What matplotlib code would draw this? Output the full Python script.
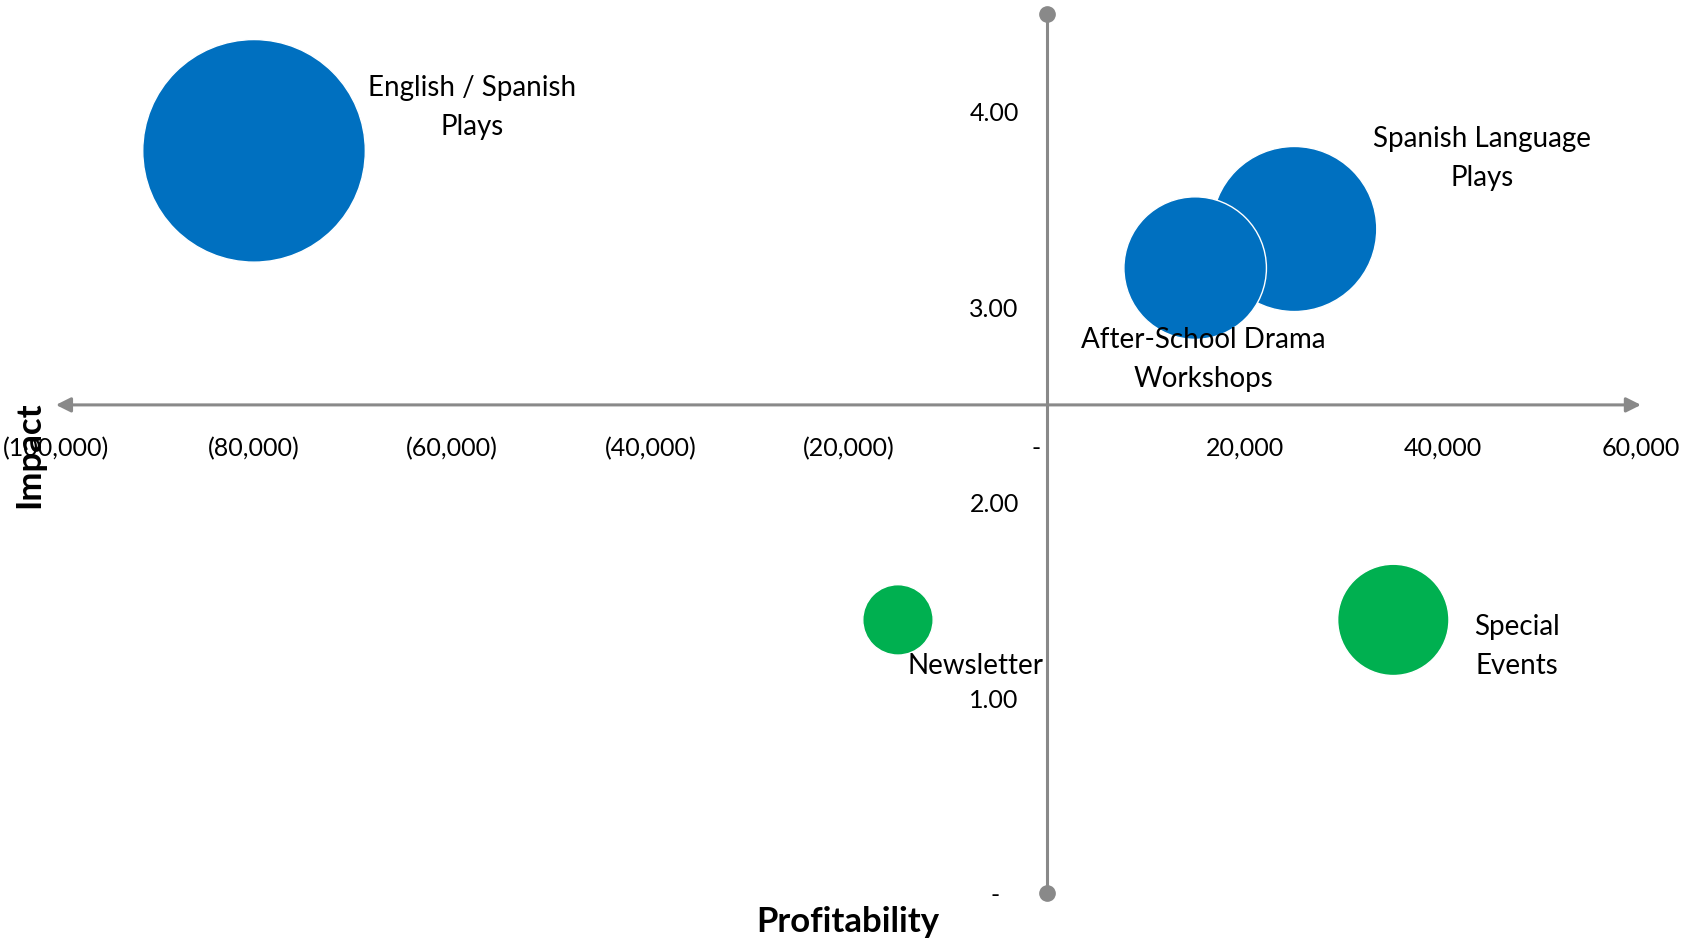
import matplotlib
matplotlib.use("Agg")
from matplotlib import pyplot as plt
from matplotlib.ticker import FuncFormatter

plt.rcParams['font.family'] = ['Lato', 'DejaVu Sans']

# bubble data
programs = ["English / Spanish\nPlays", "Spanish Language\nPlays",
            "After-School Drama\nWorkshops", "Newsletter", "Special\nEvents"]
profit = [-80000, 25000, 15000, -15000, 35000]
impact = [3.8, 3.4, 3.2, 1.4, 1.4]
bubble = [100, 55, 41, 10, 25]
colors = ["#0070C0", "#0070C0", "#0070C0", "#00B050", "#00B050"]

x_ticks = [-100000, -80000, -60000, -40000, -20000, 0, 20000, 40000, 60000]
y_ticks = [0, 1, 2, 3, 4]

# label offsets (points) from bubble centres
offsets = [(157, 31), (135, 51), (6, -66), (56, -33), (89, -19)]

AXIS = "#898989"


def fmt_x(v, pos):
    if v == 0:
        return "-   "
    if v < 0:
        return "({:,.0f})".format(-v)
    return "{:,.0f}".format(v)


def fmt_y(v, pos):
    if v == 0:
        return "-   "
    return "{:.2f}".format(v)


fig = plt.figure(figsize=(16.94, 9.42), dpi=100)
ax = fig.add_axes([0.033, 0.0515, 0.9357, 0.9336])
ax.set_xlim(-100000, 60000)
ax.set_ylim(0, 4.5)

s_max = 25680
ax.scatter(profit, impact, s=[b / max(bubble) * s_max for b in bubble],
           c=colors, edgecolors="white", linewidths=1.0, zorder=3)

for name, x, y, off in zip(programs, profit, impact, offsets):
    ax.annotate(name, (x, y), xytext=off, textcoords="offset points",
                ha="center", va="center", fontsize=20, linespacing=1.62,
                zorder=4)

# axes drawn as arrows / dotted line through the origin
ax.annotate("", xy=(-100000, 2.5), xytext=(60000, 2.5),
            arrowprops=dict(arrowstyle="<|-|>", color=AXIS, lw=2.2,
                            mutation_scale=22, shrinkA=0, shrinkB=0),
            zorder=2, annotation_clip=False)
ax.plot([0, 0], [0, 4.5], color=AXIS, lw=2.2, marker="o", markersize=11,
        clip_on=False, zorder=2)

for sp in ax.spines.values():
    sp.set_visible(False)
ax.spines['left'].set_position(('data', 0))
ax.spines['bottom'].set_position(('data', 2.5))
ax.set_xticks(x_ticks)
ax.set_yticks(y_ticks)
ax.xaxis.set_major_formatter(FuncFormatter(fmt_x))
ax.yaxis.set_major_formatter(FuncFormatter(fmt_y))
ax.tick_params(axis='x', length=0, pad=23, labelsize=18)
ax.tick_params(axis='y', length=0, pad=20, labelsize=18)

fig.text(0.5007, 0.0212, "Profitability", ha="center", va="center",
         fontsize=25, fontweight="bold")
fig.text(0.017, 0.517, "Impact", ha="center", va="center", rotation=90,
         fontsize=25, fontweight="bold")

fig.savefig("out.png", dpi=100)
